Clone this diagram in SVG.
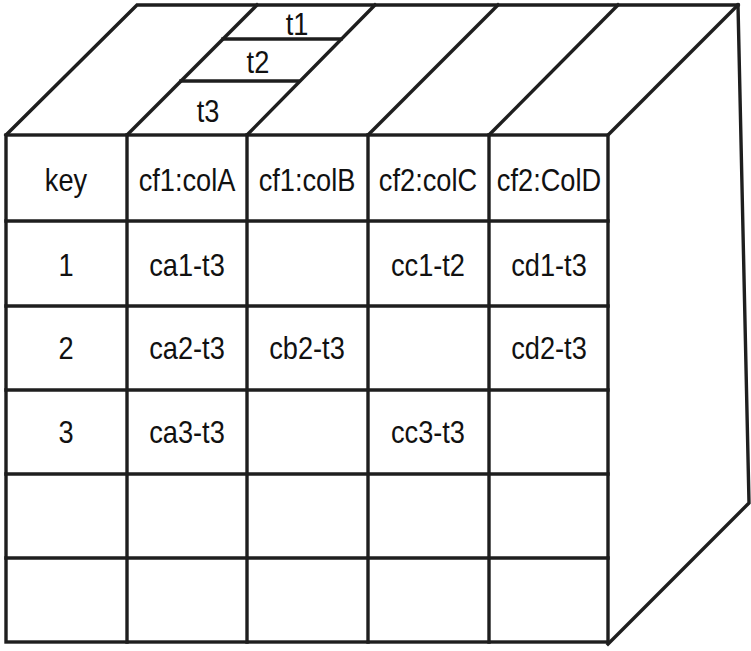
<svg xmlns="http://www.w3.org/2000/svg" width="751" height="651" viewBox="0 0 751 651">
  <style>
    .ln { stroke: #1e1e1e; stroke-width: 3.4; fill: none; stroke-linecap: square; stroke-linejoin: miter; }
    .tx { font-family: "Liberation Sans", Arial, sans-serif; font-size: 32px; fill: #111; text-anchor: middle; }
  </style>
  <rect width="751" height="651" fill="#ffffff"/>
  <g id="top-face">
    <polyline class="ln" points="6,135 137,5 738,5"/>
    <line class="ln" x1="127" y1="135" x2="257" y2="5"/>
    <line class="ln" x1="247" y1="135" x2="375" y2="5"/>
    <line class="ln" x1="368" y1="135" x2="498" y2="5"/>
    <line class="ln" x1="489" y1="135" x2="618" y2="5"/>
    <line class="ln" x1="608" y1="135" x2="738" y2="5"/>
    <line class="ln" x1="223" y1="39" x2="341" y2="39"/>
    <line class="ln" x1="181" y1="81" x2="298" y2="81"/>
    <g transform="scale(0.85,1)">
      <text class="tx" x="349.4" y="35">t1</text>
      <text class="tx" x="303.5" y="73">t2</text>
      <text class="tx" x="244.7" y="122">t3</text>
    </g>
  </g>
  <g id="side-face">
    <polyline class="ln" points="738,5 749,503 608,644"/>
  </g>
  <g id="front-grid">
    <rect class="ln" x="6" y="135" width="602" height="507"/>
    <line class="ln" x1="127" y1="135" x2="127" y2="642"/>
    <line class="ln" x1="247" y1="135" x2="247" y2="642"/>
    <line class="ln" x1="368" y1="135" x2="368" y2="642"/>
    <line class="ln" x1="489" y1="135" x2="489" y2="642"/>
    <line class="ln" x1="6" y1="221" x2="608" y2="221"/>
    <line class="ln" x1="6" y1="306" x2="608" y2="306"/>
    <line class="ln" x1="6" y1="390" x2="608" y2="390"/>
    <line class="ln" x1="6" y1="474" x2="608" y2="474"/>
    <line class="ln" x1="6" y1="558" x2="608" y2="558"/>
  </g>
  <g id="header-row" transform="scale(0.85,1)">
    <text class="tx" x="77.6" y="191">key</text>
    <text class="tx" x="220" y="191">cf1:colA</text>
    <text class="tx" x="361.2" y="191">cf1:colB</text>
    <text class="tx" x="503.5" y="191">cf2:colC</text>
    <text class="tx" x="645.9" y="191">cf2:ColD</text>
  </g>
  <g id="row-1" transform="scale(0.85,1)">
    <text class="tx" x="77.6" y="276">1</text>
    <text class="tx" x="220" y="276">ca1-t3</text>
    <text class="tx" x="503.5" y="276">cc1-t2</text>
    <text class="tx" x="645.9" y="276">cd1-t3</text>
  </g>
  <g id="row-2" transform="scale(0.85,1)">
    <text class="tx" x="77.6" y="359">2</text>
    <text class="tx" x="220" y="359">ca2-t3</text>
    <text class="tx" x="361.2" y="359">cb2-t3</text>
    <text class="tx" x="645.9" y="359">cd2-t3</text>
  </g>
  <g id="row-3" transform="scale(0.85,1)">
    <text class="tx" x="77.6" y="443">3</text>
    <text class="tx" x="220" y="443">ca3-t3</text>
    <text class="tx" x="503.5" y="443">cc3-t3</text>
  </g>
</svg>
